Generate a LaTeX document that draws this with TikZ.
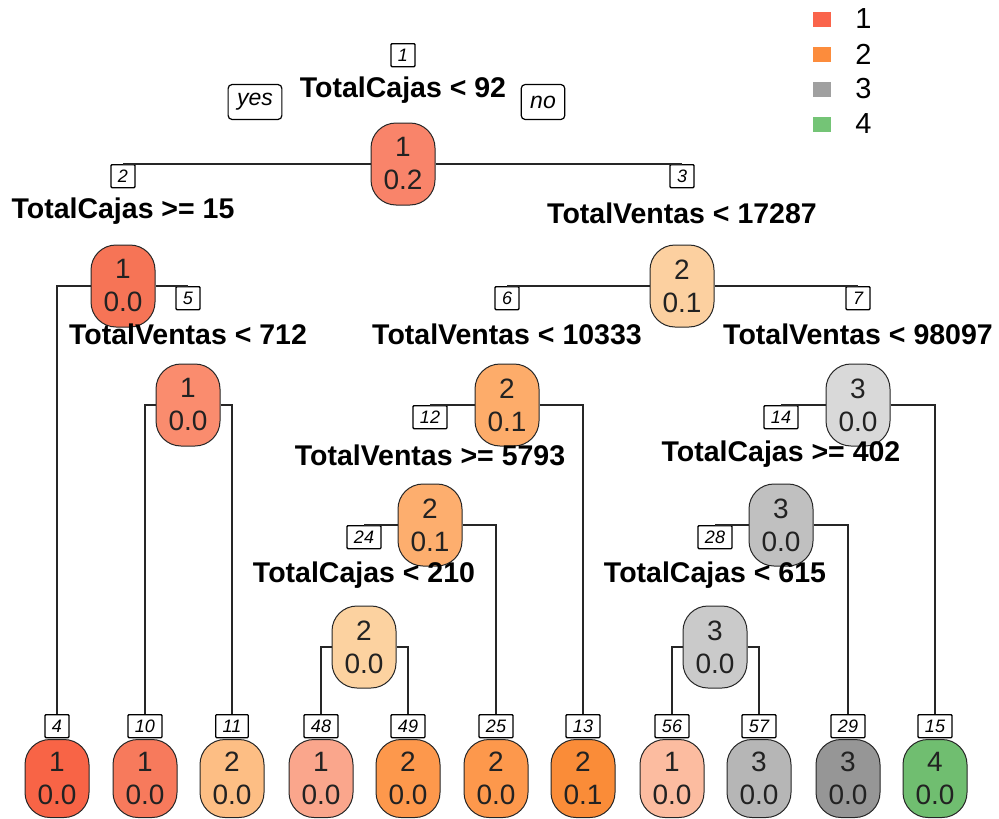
\documentclass[tikz,border=0pt]{standalone}
\usepackage{fontspec}
\setmainfont{Liberation Sans}
\usetikzlibrary{positioning}

\definecolor{leg1}{RGB}{250,100,75}
\definecolor{leg2}{RGB}{252,140,60}
\definecolor{leg3}{RGB}{160,160,160}
\definecolor{leg4}{RGB}{116,196,118}
\definecolor{nd1}{RGB}{249,132,106}
\definecolor{nd2}{RGB}{246,116,86}
\definecolor{nd3}{RGB}{252,208,160}
\definecolor{nd5}{RGB}{250,140,110}
\definecolor{nd6}{RGB}{253,172,106}
\definecolor{nd7}{RGB}{217,217,217}
\definecolor{nd12}{RGB}{253,174,110}
\definecolor{nd14}{RGB}{192,192,192}
\definecolor{nd24}{RGB}{252,210,160}
\definecolor{nd28}{RGB}{202,202,202}
\definecolor{lf4}{RGB}{248,100,70}
\definecolor{lf10}{RGB}{247,122,92}
\definecolor{lf11}{RGB}{253,190,132}
\definecolor{lf48}{RGB}{250,166,140}
\definecolor{lf49}{RGB}{253,152,76}
\definecolor{lf25}{RGB}{253,152,76}
\definecolor{lf13}{RGB}{250,140,56}
\definecolor{lf56}{RGB}{252,188,160}
\definecolor{lf57}{RGB}{182,182,182}
\definecolor{lf29}{RGB}{150,150,150}
\definecolor{lf15}{RGB}{112,190,112}
\definecolor{inktxt}{RGB}{34,34,34}

\begin{document}
\begin{tikzpicture}[x=1pt,y=-1pt,
  ovalnode/.style={draw=black!85,line width=1pt,rounded corners=25pt,minimum width=64pt,
    minimum height=82pt,inner sep=0pt,align=center,text=inktxt,font=\fontsize{28}{33}\selectfont},
  leafnode/.style={minimum height=78pt},
  numbox/.style={draw,fill=white,line width=1.3pt,rounded corners=1pt,minimum height=23pt,
    minimum width=23pt,inner xsep=7pt,inner ysep=0pt,font=\fontsize{18}{18}\selectfont\itshape},
  splitlabel/.style={inner sep=0pt,font=\fontsize{28.5}{30}\selectfont\bfseries},
  yesno/.style={draw,line width=1.2pt,rounded corners=4pt,minimum height=35pt,inner xsep=9pt,
    inner ysep=0pt,font=\fontsize{23}{23}\selectfont\itshape},
  branch/.style={draw=black!85,line width=1.1pt},
  legsq/.style={minimum width=18pt,minimum height=15pt,inner sep=0pt},
  legtxt/.style={inner sep=0pt,font=\fontsize{29}{29}\selectfont}]
  \useasboundingbox (0,0) rectangle (999,819);

  % legend
  \foreach \k/\yy in {1/19,2/54,3/89,4/124}{
    \node[legsq,fill=leg\k] (q\k) at (822,\yy) {};
    \node[legtxt,right=24pt of q\k] (lt\k) {\k};
  }

  % root
  \node[numbox,anchor=north] (b1) at (403,43) {1};
  \node[splitlabel] (s1) at (403,90) {TotalCajas < 92};
  \node[ovalnode,fill=nd1] (o1) at (403,164) {1\\0.2};
  \node[yesno] (yes) at (255,102) {yes};
  \node[yesno] (no) at (543,102) {no};

  % inner nodes
  \node[numbox,anchor=north] (b2) at (123,164) {2};
  \node[splitlabel] (s2) at (123,211) {TotalCajas >= 15};
  \node[ovalnode,fill=nd2] (o2) at (123,286) {1\\0.0};

  \node[numbox,anchor=north] (b3) at (682,164) {3};
  \node[splitlabel] (s3) at (682,213) {TotalVentas < 17287};
  \node[ovalnode,fill=nd3] (o3) at (682,286) {2\\0.1};

  \node[numbox,anchor=north] (b5) at (188,286) {5};
  \node[splitlabel] (s5) at (188,334) {TotalVentas < 712};
  \node[ovalnode,fill=nd5] (o5) at (188,405) {1\\0.0};

  \node[numbox,anchor=north] (b6) at (507,286) {6};
  \node[splitlabel] (s6) at (507,334) {TotalVentas < 10333};
  \node[ovalnode,fill=nd6] (o6) at (507,405) {2\\0.1};

  \node[numbox,anchor=north] (b7) at (858,286) {7};
  \node[splitlabel] (s7) at (858,334) {TotalVentas < 98097};
  \node[ovalnode,fill=nd7] (o7) at (858,405) {3\\0.0};

  \node[numbox,anchor=north] (b12) at (430,405) {12};
  \node[splitlabel] (s12) at (430,455) {TotalVentas >= 5793};
  \node[ovalnode,fill=nd12] (o12) at (430,525) {2\\0.1};

  \node[numbox,anchor=north] (b14) at (781,405) {14};
  \node[splitlabel] (s14) at (781,454) {TotalCajas >= 402};
  \node[ovalnode,fill=nd14] (o14) at (781,525) {3\\0.0};

  \node[numbox,anchor=north] (b24) at (364,525) {24};
  \node[splitlabel] (s24) at (364,575) {TotalCajas < 210};
  \node[ovalnode,fill=nd24] (o24) at (364,647) {2\\0.0};

  \node[numbox,anchor=north] (b28) at (715,525) {28};
  \node[splitlabel] (s28) at (715,575) {TotalCajas < 615};
  \node[ovalnode,fill=nd28] (o28) at (715,647) {3\\0.0};

  % leaves
  \foreach \n/\xx/\cls/\val in {4/57/1/0.0,10/145/1/0.0,11/232/2/0.0,48/321/1/0.0,49/408/2/0.0,
      25/496/2/0.0,13/583/2/0.1,56/672/1/0.0,57/759/3/0.0,29/848/3/0.0,15/935/4/0.0}{
    \node[ovalnode,leafnode,fill=lf\n,anchor=north] (o\n) at (\xx,739) {\cls\\\val};
    \node[numbox,anchor=north] (b\n) at (\xx,714) {\n};
  }

  % branches
  \foreach \p/\l/\r in {1/2/3,2/4/5,3/6/7,5/10/11,6/12/13,7/14/15,12/24/25,14/28/29,24/48/49,28/56/57}{
    \draw[branch] (o\p.west) -| (b\l.north);
    \draw[branch] (o\p.east) -| (b\r.north);
  }
\end{tikzpicture}
\end{document}
